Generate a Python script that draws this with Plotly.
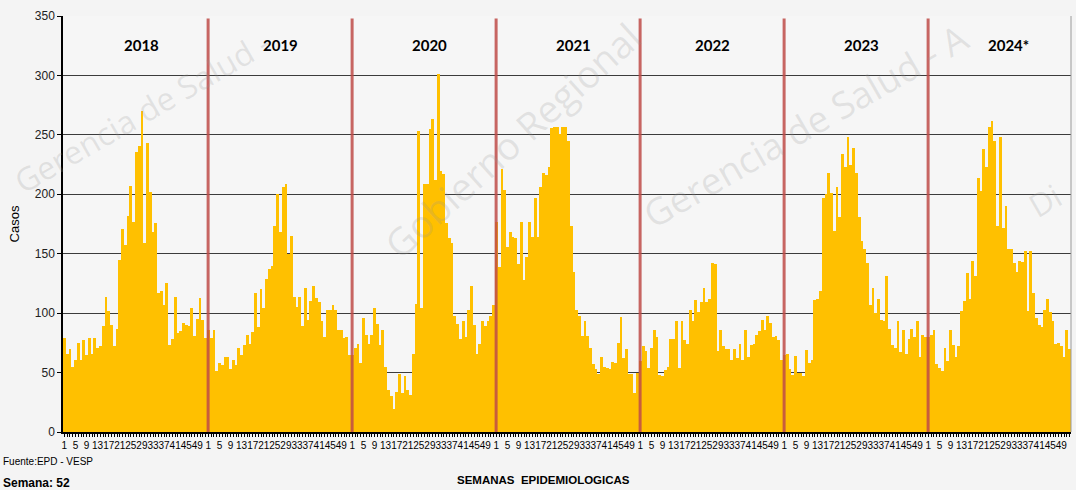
import plotly.graph_objects as go

years = ["2018", "2019", "2020", "2021", "2022", "2023", "2024*"]
weeks = list(range(1, 53))
week_tick_labels = [1, 5, 9, 13, 17, 21, 25, 29, 33, 37, 41, 45, 49]

cases_2018 = [79, 66, 70, 55, 61, 75, 61, 77, 65, 79, 66, 79, 71, 72, 89, 114, 102, 90, 72, 87,
              145, 171, 157, 182, 207, 177, 236, 241, 270, 159, 243, 202, 168, 176, 117, 119, 107, 125, 73, 78,
              114, 83, 85, 92, 90, 89, 104, 81, 95, 113, 94, 79]
cases_2019 = [86, 79, 86, 51, 58, 56, 63, 63, 53, 61, 56, 71, 65, 73, 82, 74, 84, 117, 88, 120,
              104, 129, 137, 140, 173, 200, 168, 206, 209, 150, 165, 114, 105, 114, 89, 121, 94, 110, 123, 113,
              109, 93, 80, 103, 103, 107, 103, 86, 86, 79, 80, 65]
cases_2020 = [65, 71, 74, 58, 96, 82, 74, 82, 104, 91, 73, 86, 55, 35, 30, 19, 34, 49, 33, 47,
              35, 31, 66, 108, 253, 104, 209, 209, 255, 263, 212, 301, 220, 217, 176, 163, 159, 98, 91, 78,
              93, 80, 103, 123, 90, 66, 74, 93, 89, 93, 98, 107]
cases_2021 = [177, 139, 221, 204, 156, 168, 164, 163, 141, 177, 128, 147, 177, 164, 197, 164, 206, 218, 216, 223,
              256, 257, 257, 251, 257, 257, 245, 173, 135, 103, 98, 81, 93, 81, 71, 57, 53, 49, 63, 55,
              54, 53, 59, 58, 75, 97, 62, 70, 49, 49, 33, 50]
cases_2022 = [60, 72, 68, 54, 71, 86, 80, 48, 47, 52, 55, 78, 78, 93, 54, 93, 77, 74, 103, 93,
              111, 101, 109, 121, 109, 112, 142, 141, 68, 86, 72, 70, 70, 61, 70, 62, 74, 61, 86, 63,
              73, 74, 82, 85, 94, 86, 98, 92, 80, 81, 77, 61]
cases_2023 = [65, 66, 53, 48, 64, 50, 50, 47, 69, 58, 61, 111, 112, 119, 197, 200, 218, 201, 169, 206,
              181, 234, 223, 248, 225, 239, 218, 181, 161, 154, 142, 107, 121, 100, 112, 94, 93, 131, 87, 73,
              71, 93, 67, 86, 66, 78, 87, 80, 93, 63, 82, 80]
cases_2024 = [80, 82, 86, 57, 54, 51, 71, 60, 86, 73, 63, 72, 102, 110, 134, 112, 144, 131, 214, 203,
              238, 223, 257, 262, 245, 173, 248, 172, 190, 154, 154, 142, 135, 144, 143, 152, 102, 152, 117, 96,
              90, 88, 103, 112, 101, 93, 74, 75, 72, 63, 86, 70]

series = [cases_2018, cases_2019, cases_2020, cases_2021, cases_2022, cases_2023, cases_2024]
# label x positions (in bar-index units) for the year titles
year_label_x = [28.0, 77.9, 132.0, 184.0, 233.9, 288.0, 340.9]

# ---- build flat arrays ----
x_idx, y_vals = [], []
for k, s in enumerate(series):
    for i, v in enumerate(s):
        x_idx.append(k * len(weeks) + i)
        y_vals.append(v)

tickvals, ticktext = [], []
for k in range(len(years)):
    for w in week_tick_labels:
        tickvals.append(k * len(weeks) + (w - 1))
        ticktext.append(str(w))

n_total = len(x_idx)

fig = go.Figure()
fig.add_trace(go.Bar(
    x=x_idx, y=y_vals,
    marker=dict(color="#FFC000", line=dict(width=0)),
    hoverinfo="y",
))

shapes = []
for k in range(1, len(years)):
    bx = k * len(weeks) - 0.1
    shapes.append(dict(type="line", xref="x", yref="y", x0=bx, x1=bx, y0=0, y1=348,
                       line=dict(color="rgba(190,75,72,0.85)", width=3), layer="above"))
shapes.append(dict(type="line", xref="paper", yref="paper", x0=1, x1=1, y0=0, y1=1,
                   line=dict(color="#9a9a9a", width=1)))

annotations = []
for lab, xp in zip(years, year_label_x):
    annotations.append(dict(x=xp, y=326, xref="x", yref="y", text="<b>%s</b>" % lab,
                            showarrow=False, font=dict(family="Lato, Liberation Sans", size=15, color="#000"),
                            xanchor="center", yanchor="middle"))

# watermark texts (pixel centre positions, converted below)
wm_color = "rgba(150,150,150,0.22)"
watermarks = [
    ("Gerencia de Salud -", 142, 112, -30, 32),
    ("Gobierno Regional", 512, 140, -42, 38),
    ("Gerencia de Salud - A", 805, 126, -30, 37),
    ("Di", 1044, 200, -30, 32),
]
for txt, px, py, ang, sz in watermarks:
    annotations.append(dict(x=(px - 63) / 1008.0, y=(432 - py) / 416.0, xref="paper", yref="paper",
                            text=txt, textangle=ang, showarrow=False, xanchor="center", yanchor="middle",
                            font=dict(family="Open Sans, DejaVu Sans", size=sz, color=wm_color)))

annotations += [
    dict(x=0.477, y=-0.115, xref="paper", yref="paper", text="<b>SEMANAS  EPIDEMIOLOGICAS</b>",
         showarrow=False, font=dict(family="Liberation Sans, Arial", size=11.5, color="#000"),
         xanchor="center", yanchor="middle"),
    dict(x=-0.0615, y=-0.072, xref="paper", yref="paper", text="Fuente:EPD - VESP",
         showarrow=False, font=dict(family="Liberation Sans, Arial", size=10, color="#000"),
         xanchor="left", yanchor="middle"),
    dict(x=-0.0615, y=-0.122, xref="paper", yref="paper", text="<b>Semana: 52</b>",
         showarrow=False, font=dict(family="Liberation Sans, Arial", size=12, color="#000"),
         xanchor="left", yanchor="middle"),
]

fig.update_layout(
    width=1076, height=490,
    margin=dict(l=63, r=5, t=16, b=58),
    paper_bgcolor="#f4f4f4", plot_bgcolor="#f6f6f6",
    bargap=0, showlegend=False,
    shapes=shapes, annotations=annotations,
    xaxis=dict(range=[-0.5, n_total - 0.5], tickmode="array", tickvals=tickvals, ticktext=ticktext,
               tickangle=0, ticks="outside", ticklen=3, tickcolor="#000",
               tickfont=dict(family="Liberation Sans, Arial", size=10, color="#000"),
               showgrid=False, zeroline=False, showline=True, linecolor="#000", linewidth=1.5,
               minor=dict(ticks="outside", dtick=1, tick0=0, ticklen=3, tickcolor="#000", showgrid=False)),
    yaxis=dict(range=[0, 350], dtick=50, ticks="outside", ticklen=4, tickcolor="#000",
               tickfont=dict(family="Liberation Sans, Arial", size=12, color="#222"),
               showgrid=True, gridcolor="#3c3c3c", gridwidth=1, zeroline=False,
               showline=True, linecolor="#000", linewidth=1.5,
               title=dict(text="Casos", font=dict(family="Liberation Sans, Arial", size=13, color="#000"),
                          standoff=12)),
)

fig.write_html("out.html", config={"displayModeBar": False},
               post_script="document.body.style.margin='0px';document.body.style.background='#f4f4f4';")
